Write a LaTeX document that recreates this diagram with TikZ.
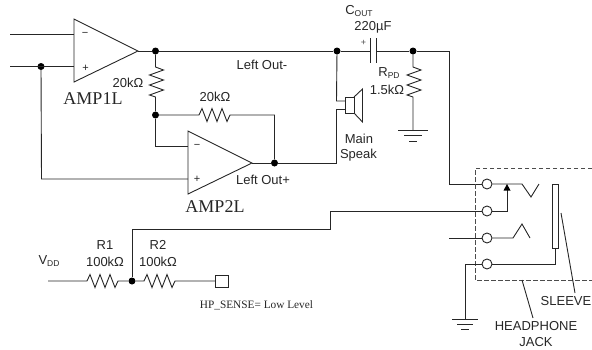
\documentclass[tikz,border=0pt]{standalone}
\usepackage{fontspec}
\setmainfont{Liberation Sans}
\newfontfamily\serifface{Liberation Serif}
\newcommand{\subfont}{\fontsize{8.5}{9}\selectfont}
\tikzset{
  x=1pt,y=-1pt,
  wire/.style={draw=black!85,line width=0.9pt,line join=miter},
  dot/.style={circle,fill=black,inner sep=0pt,minimum size=7pt},
  term/.style={circle,draw=black!85,fill=white,line width=0.9pt,inner sep=0pt,minimum size=10pt},
  lab/.style={font=\fontsize{13}{14}\selectfont,text=black!85,inner sep=0pt,anchor=center},
  amp/.style={font=\fontsize{18}{19}\selectfont\serifface,text=black!85,inner sep=0pt},
  small/.style={font=\fontsize{11.3}{12}\selectfont\serifface,text=black!85,inner sep=0pt},
  sign/.style={font=\fontsize{11}{12}\selectfont,text=black!85,inner sep=0pt},
}
\newcommand{\hres}{-- ++(3,-6.5) -- ++(5,13) -- ++(5,-13) -- ++(5,13) -- ++(5,-13) -- ++(5,13) -- ++(3,-6.5)}
\newcommand{\vres}{-- ++(8,3) -- ++(-14,5) -- ++(14,5) -- ++(-14,5) -- ++(14,5) -- ++(-14,5) -- ++(6,2)}
\begin{document}
\begin{tikzpicture}
\useasboundingbox (0,0) rectangle (592,349);
% amplifiers
\coordinate (a1a) at (74,19); \coordinate (a1b) at (74,82); \coordinate (a1o) at (138,51);
\coordinate (a2a) at (188,131); \coordinate (a2b) at (188,194); \coordinate (a2o) at (252,163);
\draw[wire] (a1a) -- (a1o) -- (a1b) -- cycle;
\draw[wire] (a2a) -- (a2o) -- (a2b) -- cycle;
\node[sign] (m1) at (85,34) {−};
\node[sign] (p1s) at (85.5,68) {+};
\node[sign] (m2) at (197,146.5) {−};
\node[sign] (p2s) at (197,179.5) {+};
\node[amp] (l1) at (93,99) {AMP1L};
\node[amp] (l2) at (215,207) {AMP2L};
% junctions
\node[dot] (j1) at (41,66.5) {};
\node[dot] (j2) at (155.5,51) {};
\node[dot] (j3) at (155.5,115) {};
\node[dot] (j4) at (274.5,163) {};
\node[dot] (j5) at (337,51) {};
\node[dot] (j6) at (413,51) {};
\node[dot] (j7) at (132,281) {};
% input wires
\coordinate (in1) at (10,34.5); \coordinate (in2) at (10,66.5);
\coordinate (p1) at (74,34.5); \coordinate (p2) at (74,66.5);
\draw[wire] (in1) -- (p1);
\draw[wire] (in2) -- (p2);
\draw[wire] (j1) -- (41.5,179) -- (188,179);
% amp 1 output
\draw[wire] (a1o) -- (j2) -- (j5) -- (370,51);
\draw[wire] (j2) -- (155.5,67) \vres -- (j3);
\draw[wire] (j3) -- (155.5,146.5) -- (188,146.5);
\draw[wire] (j3) -- (199,115) \hres -- (274.5,115) -- (j4);
\draw[wire] (a2o) -- (j4) -- (336.5,163) -- (336.5,109) -- (345,109);
\draw[wire] (j5) -- (336.5,101) -- (345,101);
% speaker
\draw[wire,fill=white] (345,97) rectangle (354,113);
\draw[wire] (354,97) -- (362.5,89) -- (362.5,122) -- (354,113);
% capacitor
\draw[wire] (370,38) -- (370,63);
\draw[wire] (376,38) -- (376,63);
\draw[wire] (376,51) -- (j6) -- (449.5,51) -- (449.5,184) -- (482,184);
\node[font=\fontsize{9}{10}\selectfont,text=black!70,inner sep=0pt] (cp) at (363.5,43) {+};
\node[lab] (c1) at (359,11) {C\raisebox{-1.5pt}{\subfont OUT}};
\node[lab] (c2) at (373,27.5) {220µF};
% RPD
\draw[wire] (j6) -- (413,67) \vres -- (413,130);
\draw[wire] (398,130) -- (428,130) (404,135.5) -- (422,135.5) (409,141) -- (417,141);
\node[lab] (r1) at (389,73) {R\raisebox{-1.5pt}{\subfont PD}};
\node[lab] (r2) at (387,90) {1.5kΩ};
% labels
\node[lab] (t01) at (262,65) {Left Out-};
\node[lab] (t02) at (215,97) {20kΩ};
\node[lab] (t03) at (128,83) {20kΩ};
\node[lab] (t04) at (263,180) {Left Out+};
\node[lab] (t05) at (359,139) {Main};
\node[lab] (t06) at (358.5,155) {Speak};
% jack
\draw[wire,dash pattern=on 4.5pt off 2.5pt,draw=black!70] (592,168) -- (475,168) -- (475,280) -- (592,280);
\node[term] (t1) at (487,184) {};
\node[term] (t2) at (487,211) {};
\node[term] (t3) at (487,238) {};
\node[term] (t4) at (487,264) {};
\draw[wire] (t1) -- (522,184) -- (531,197) -- (539,184);
\draw[wire] (t3) -- (513,238) -- (522,224) -- (530,238);
\draw[wire] (449,238) -- (t3);
\draw[wire] (t2) -- (507,211) -- (507,190);
\fill[black] (507,184) -- (510.5,190.5) -- (503.5,190.5) -- cycle;
\draw[wire] (t4) -- (555,264) -- (555,248);
\draw[wire,fill=white] (552,184) rectangle (558,248);
\draw[wire] (t4) -- (465,264) -- (465,319);
\draw[wire] (452,319) -- (478,319) (457,324) -- (473,324) (461,329) -- (469,329);
\draw[wire] (561,213) -- (575,293);
\draw[wire] (522,280) -- (533,318);
\node[lab,anchor=east] (t07) at (591.5,301) {SLEEVE};
\node[lab] (t08) at (536,326) {HEADPHONE};
\node[lab] (t09) at (536,342) {JACK};
% sense
\draw[wire] (t2) -- (330.5,211) -- (330.5,229) -- (132,229) -- (j7);
\coordinate (vdd) at (48,281);
\draw[wire] (vdd) -- (87,281) \hres -- (j7);
\draw[wire] (j7) -- (144,281) \hres -- (215,281);
\draw[wire] (215,275) rectangle (228,287);
\node[lab] (t10) at (49,261) {V\raisebox{-1.5pt}{\subfont DD}};
\node[lab] (t11) at (105,245) {R1};
\node[lab] (t12) at (105,262) {100kΩ};
\node[lab] (t13) at (158,245) {R2};
\node[lab] (t14) at (158,262) {100kΩ};
\node[small] (t15) at (256.5,305) {HP\_SENSE= Low Level};
\end{tikzpicture}
\end{document}
